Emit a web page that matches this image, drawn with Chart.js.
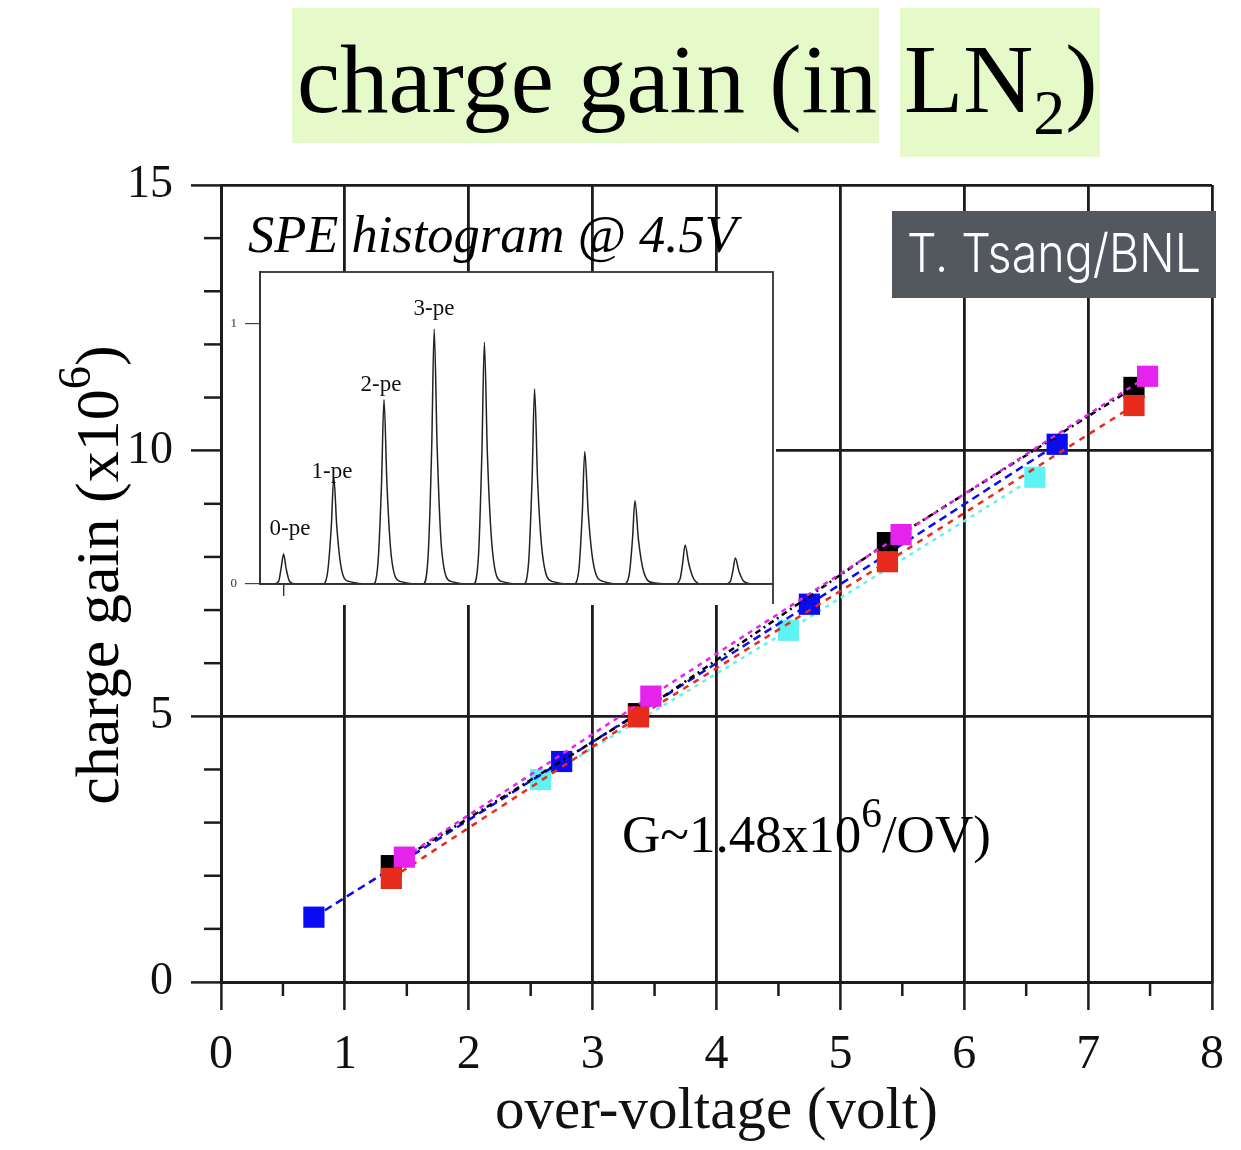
<!DOCTYPE html>
<html><head><meta charset="utf-8">
<script src="https://cdn.jsdelivr.net/npm/chart.js@4.4.0/dist/chart.umd.min.js"></script>
<style>
body{margin:0;background:#fff;}
#wrap{position:relative;width:1241px;height:1150px;overflow:hidden;font-family:'Liberation Serif','Times New Roman',serif;}
canvas{position:absolute;}
.t{position:absolute;white-space:nowrap;line-height:1;color:#000;}
.pe{position:absolute;white-space:nowrap;line-height:1;font-size:23px;color:#111;transform:translate(-50%,-50%);}
</style></head><body>
<div id="wrap">
<canvas id="main" width="1241" height="1150" style="left:0;top:0;width:1241px;height:1150px"></canvas>
<canvas id="inset" width="570" height="360" style="left:220px;top:255px;width:570px;height:360px"></canvas>

<div style="position:absolute;left:292px;top:8px;width:587px;height:135px;background:#e5f9c9;"></div>
<div style="position:absolute;left:900px;top:8px;width:200px;height:149px;background:#e5f9c9;"></div>
<div class="t" style="left:297px;top:31px;font-size:97px;">charge gain (in</div>
<div class="t" style="left:904px;top:31px;font-size:97px;">LN<span style="font-size:0.66em;position:relative;top:0.35em">2</span>)</div>

<div style="position:absolute;left:892px;top:211px;width:324px;height:87px;background:#53585f;"></div>
<div class="t" style="left:907px;top:227px;font-size:53px;font-family:Inter,'Open Sans',sans-serif;font-weight:300;color:#fff;transform:scaleX(0.88);transform-origin:0 0;">T. Tsang/BNL</div>

<div class="t" style="left:248px;top:208px;font-size:52.5px;font-style:italic;">SPE histogram @ 4.5V</div>
<div class="t" style="left:622px;top:808px;font-size:53px;">G~1.48x10<span style="font-size:0.78em;position:relative;top:-0.6em">6</span>/OV)</div>

<div class="t" style="left:-153px;top:544px;width:500px;text-align:center;font-size:62px;transform:rotate(-90deg);transform-origin:250px 31px;">charge gain (x10<span style="font-size:0.75em;position:relative;top:-0.6em">6</span>)</div>

<div id="pelabels"></div>
</div>
<script>
// ---- main chart data (over-voltage in volt, gain in 1e6) ----
const xTickValues = [0, 1, 2, 3, 4, 5, 6, 7, 8];
const yTickValues = [0, 5, 10, 15];

const blueOV = [0.75, 2.75, 4.75, 6.75];
const blueGain = [1.22, 4.15, 7.11, 10.12];

const cyanOV = [2.58, 4.58, 6.57];
const cyanGain = [3.81, 6.62, 9.50];

const blackOV = [1.375, 3.37, 5.38, 7.37];
const blackGain = [2.19, 5.05, 8.27, 11.19];

const redOV = [1.375, 3.37, 5.38, 7.37];
const redGain = [1.95, 4.99, 7.91, 10.85];

const magentaOV = [1.48, 3.47, 5.49, 7.48];
const magentaGain = [2.35, 5.38, 8.42, 11.40];

// ---- inset SPE histogram (photo-electron number, normalised counts) ----
const histPE = [-0.47, -0.2, -0.1, -0.05, 0, 0.05, 0.12, 0.25,
  0.78, 0.88, 0.95, 1, 1.06, 1.15, 1.3,
  1.78, 1.88, 1.95, 2, 2.06, 2.15, 2.32,
  2.78, 2.88, 2.95, 3, 3.06, 3.15, 3.33,
  3.78, 3.88, 3.95, 4, 4.06, 4.16, 4.34,
  4.78, 4.88, 4.95, 5, 5.06, 5.16, 5.35,
  5.78, 5.88, 5.95, 6, 6.07, 6.17, 6.36,
  6.78, 6.88, 6.95, 7, 7.07, 7.17, 7.36,
  7.8, 7.9, 7.95, 8, 8.07, 8.17, 8.35,
  8.8, 8.9, 8.95, 9, 9.07, 9.17, 9.35,
  9.75];
const histCounts = [0, 0, 0.01, 0.06, 0.115, 0.06, 0.01, 0,
  0, 0.05, 0.22, 0.41, 0.22, 0.06, 0.01,
  0, 0.08, 0.38, 0.71, 0.38, 0.1, 0.01,
  0, 0.11, 0.52, 0.98, 0.52, 0.13, 0.01,
  0, 0.1, 0.5, 0.93, 0.5, 0.13, 0.01,
  0, 0.08, 0.4, 0.75, 0.4, 0.11, 0.01,
  0, 0.05, 0.27, 0.51, 0.27, 0.08, 0.01,
  0, 0.03, 0.17, 0.32, 0.17, 0.05, 0.005,
  0, 0.02, 0.08, 0.15, 0.08, 0.02, 0,
  0, 0.01, 0.05, 0.10, 0.05, 0.01, 0,
  0];
const insetYTicks = [0, 1];
const peLabels = ['0-pe', '1-pe', '2-pe', '3-pe'];
const peLabelPos = [[290, 527], [332, 470], [381, 383], [434, 307]];

const pts = (xs, ys) => xs.map((x, i) => ({x: x, y: ys[i]}));
const AX = '#1c1c1c';
const FONT = "'Liberation Serif','Times New Roman',serif";

function ds(label, xs, ys, color, dash, order) {
  return {label, data: pts(xs, ys), showLine: true, borderColor: color, backgroundColor: color,
    borderWidth: 2.5, borderDash: dash, pointStyle: 'rect', pointRadius: 15, pointHoverRadius: 15,
    pointBorderWidth: 0, order};
}

const minorTicks = {
  id: 'minorTicks',
  afterDraw(chart) {
    const {ctx, scales: {x, y}} = chart;
    ctx.save();
    ctx.strokeStyle = AX; ctx.lineWidth = 2.5;
    for (let v = 0.5; v < 8; v += 1) {
      const px = x.getPixelForValue(v);
      ctx.beginPath(); ctx.moveTo(px, y.bottom); ctx.lineTo(px, y.bottom + 14); ctx.stroke();
    }
    for (let v = 1; v < 15; v++) {
      if (v % 5 === 0) continue;
      const py = y.getPixelForValue(v);
      ctx.beginPath(); ctx.moveTo(x.left, py); ctx.lineTo(x.left - 17, py); ctx.stroke();
    }
    ctx.restore();
  }
};

new Chart(document.getElementById('main'), {
  type: 'scatter',
  data: {datasets: [
    ds('magenta', magentaOV, magentaGain, '#e622ee', [5, 5], 1),
    ds('red', redOV, redGain, '#e62a1c', [6, 6], 2),
    ds('black', blackOV, blackGain, '#000000', [6, 4, 2, 4], 3),
    ds('blue', blueOV, blueGain, '#0a0af5', [8, 5], 4),
    ds('cyan', cyanOV, cyanGain, '#5ef2f2', [4, 5], 5)
  ]},
  options: {
    responsive: false, animation: false, devicePixelRatio: 1,
    layout: {padding: {top: 185, right: 28, left: 0, bottom: 0}},
    plugins: {legend: {display: false}, tooltip: {enabled: false}},
    scales: {
      x: {type: 'linear', min: 0, max: 8,
        afterBuildTicks: s => { s.ticks = xTickValues.map(v => ({value: v})); },
        afterFit: s => { s.height = 168; },
        grid: {color: AX, lineWidth: 2.8, tickLength: 28, tickColor: AX, tickWidth: 2.5},
        border: {display: true, color: AX, width: 3},
        ticks: {color: '#111', padding: 17, font: {family: FONT, size: 48}, maxRotation: 0},
        title: {display: true, text: 'over-voltage (volt)', color: '#111', font: {family: FONT, size: 59}, padding: {top: 0, bottom: 2}}
      },
      y: {type: 'linear', min: 0, max: 15,
        afterBuildTicks: s => { s.ticks = yTickValues.map(v => ({value: v})); },
        afterFit: s => { s.width = 221; },
        grid: {color: AX, lineWidth: 2.8, tickLength: 30, tickColor: AX, tickWidth: 2.5},
        border: {display: true, color: AX, width: 3},
        ticks: {color: '#111', padding: 18, font: {family: FONT, size: 46}}
      }
    }
  },
  plugins: [minorTicks]
});

const insetBg = {
  id: 'insetBg',
  beforeDraw(chart) {
    const ctx = chart.ctx;
    ctx.save(); ctx.fillStyle = '#fff'; ctx.fillRect(3, 17, 553, 333); ctx.restore();
  },
  afterDraw(chart) {
    const {ctx, chartArea: a} = chart;
    ctx.save(); ctx.strokeStyle = '#333'; ctx.lineWidth = 1.8;
    ctx.strokeRect(a.left, a.top, a.right - a.left, a.bottom - a.top);
    ctx.beginPath(); ctx.moveTo(a.right, a.bottom); ctx.lineTo(a.right, a.bottom + 20); ctx.stroke();
    ctx.restore();
  }
};

new Chart(document.getElementById('inset'), {
  type: 'line',
  data: {datasets: [{data: pts(histPE, histCounts), borderColor: '#222', borderWidth: 1.5,
    pointRadius: 0, fill: false, cubicInterpolationMode: 'monotone'}]},
  options: {
    responsive: false, animation: false, devicePixelRatio: 1,
    layout: {padding: {top: 17, right: 17, left: 0, bottom: 0}},
    plugins: {legend: {display: false}, tooltip: {enabled: false}},
    scales: {
      x: {type: 'linear', min: -0.47, max: 9.75,
        afterBuildTicks: s => { s.ticks = [{value: 0}]; },
        afterFit: s => { s.height = 31; },
        grid: {drawOnChartArea: false, tickLength: 12, color: '#333', lineWidth: 1.4},
        border: {display: true, color: '#333', width: 1.8},
        ticks: {display: false}
      },
      y: {type: 'linear', min: 0, max: 1.2,
        afterBuildTicks: s => { s.ticks = insetYTicks.map(v => ({value: v})); },
        afterFit: s => { s.width = 40; },
        grid: {drawOnChartArea: false, tickLength: 15, color: '#444', lineWidth: 1.2},
        border: {display: true, color: '#333', width: 1.8},
        ticks: {color: '#333', padding: 8, font: {family: FONT, size: 13}}
      }
    }
  },
  plugins: [insetBg]
});

const peDiv = document.getElementById('pelabels');
peLabels.forEach((t, i) => {
  const d = document.createElement('div');
  d.className = 'pe'; d.textContent = t;
  d.style.left = peLabelPos[i][0] + 'px'; d.style.top = peLabelPos[i][1] + 'px';
  peDiv.appendChild(d);
});
</script>
</body></html>
